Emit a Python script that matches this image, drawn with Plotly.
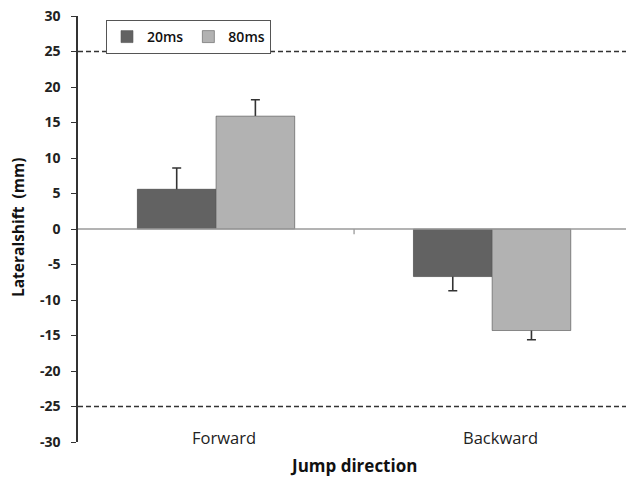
import plotly.graph_objects as go

categories = ["Forward", "Backward"]
series_names = ["20ms", "80ms"]
values_20 = [5.6, -6.7]
values_80 = [15.9, -14.3]
err_20 = [3.0, 2.0]
err_80 = [2.3, 1.3]
colors = ["#626262", "#b2b2b2"]
yticks = list(range(-30, 31, 5))
yticklabels = [str(v) for v in yticks]
ref_lines = [25, -25]

FONT = "Open Sans"
L, R, T, B, W, H = 78, 0, 16, 37, 626, 479
PW, PH = W - L - R, H - T - B

fig = go.Figure()
series = [
    (series_names[0], values_20, err_20, colors[0], "g1"),
    (series_names[1], values_80, err_80, colors[1], "g2"),
]
# error bars (the part inside the bar is hidden by the bar drawn on top)
for name, vals, err, col, grp in series:
    fig.add_trace(go.Bar(
        x=categories, y=vals, name=name, offsetgroup=grp, showlegend=False,
        marker=dict(color=col, line=dict(width=0)),
        error_y=dict(type="data", symmetric=True, array=err,
                     color="#333333", thickness=1.6, width=4.5),
    ))
for name, vals, err, col, grp in series:
    fig.add_trace(go.Bar(
        x=categories, y=vals, name=name, offsetgroup=grp,
        marker=dict(color=col, line=dict(width=0.6, color="#5a5a5a")),
    ))

for yv in ref_lines:
    fig.add_shape(type="line", xref="paper", x0=0, x1=1, yref="y", y0=yv, y1=yv,
                  line=dict(color="#333333", width=1.3, dash="5px,3px"))

# zero line
fig.add_shape(type="line", xref="paper", x0=0, x1=1, yref="y", y0=0, y1=0,
              line=dict(color="#9a9a9a", width=1.6), layer="above")
# category separator tick
fig.add_shape(type="line", xref="x", x0=0.5, x1=0.5, yref="y", y0=0, y1=-0.75,
              line=dict(color="#9a9a9a", width=1.3))

for c in categories:
    fig.add_annotation(x=c, y=-29.4, xref="x", yref="y", text=c, showarrow=False,
                       xshift=8,
                       font=dict(family=FONT, size=16.5, color="#222222"), yanchor="middle")

fig.add_annotation(x=(353 - L) / PW, y=(H - B - 466) / PH, xref="paper", yref="paper",
                   text="<b>Jump direction</b>", showarrow=False, yanchor="middle",
                   font=dict(family=FONT, size=17, color="#111111"))

fig.add_annotation(x=(18 - L) / PW, y=(H - B - 227) / PH, xref="paper", yref="paper",
                   text="<b>Lateralshift  (mm)</b>", showarrow=False, textangle=-90,
                   xanchor="center", yanchor="middle",
                   font=dict(family=FONT, size=15.5, color="#111111"))

fig.update_layout(
    width=W, height=H,
    margin=dict(l=L, r=R, t=T, b=B),
    paper_bgcolor="white", plot_bgcolor="white",
    barmode="group", bargap=0.43, bargroupgap=0,
    showlegend=True,
    legend=dict(orientation="h", x=(106 - L) / PW, y=1 - 4 / PH, xanchor="left", yanchor="top",
                bordercolor="#555555", borderwidth=1, bgcolor="white",
                font=dict(family=FONT, size=14, color="#111111", weight=600),
                itemwidth=30, tracegroupgap=0),
    xaxis=dict(range=[-0.5, 1.485], showticklabels=False, showline=False,
               ticks="", showgrid=False, zeroline=False),
    yaxis=dict(range=[-30, 30], tickvals=yticks, ticktext=yticklabels,
               ticks="outside", ticklen=5, ticklabelstandoff=8,
               tickwidth=1.3, tickcolor="#333333", showline=True, linecolor="#333333",
               linewidth=1.6, showgrid=False, zeroline=False,
               tickfont=dict(family=FONT, size=14, color="#222222", weight=700)),
)

fig.write_html("out.html")
